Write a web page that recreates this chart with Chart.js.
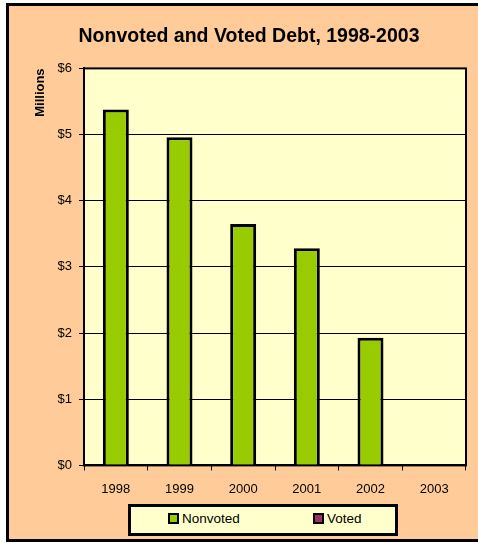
<!DOCTYPE html>
<html>
<head>
<meta charset="utf-8">
<script src="https://cdn.jsdelivr.net/npm/chart.js@4.4.0/dist/chart.umd.min.js"></script>
<style>
  html, body { margin: 0; padding: 0; background: #fff; overflow: hidden; width: 478px; height: 543px; }
  #frame { position: absolute; left: 6px; top: 3px; width: 472px; height: 539px; box-sizing: border-box;
           border: 3px solid #000; border-right: none; background: #FFCC99; }
  #wrap { position: absolute; left: 0; top: 0; width: 478px; height: 543px; }
  #legend { position: absolute; left: 128px; top: 504px; width: 270px; height: 32px; box-sizing: border-box;
            border: 3px solid #000; background: #FFFFCC; display: flex; align-items: center;
            padding: 0 0 3px 37px; font: 13.5px 'Liberation Sans', Arial, sans-serif; color: #000; }
  .item { display: flex; align-items: center; flex: none; }
  .item:first-child { width: 145px; }
  .swatch { width: 11px; height: 11px; box-sizing: border-box; border: 2px solid #000; margin-right: 3px; }
</style>
</head>
<body>
<div id="frame"></div>
<div id="wrap"><canvas id="debtChart"></canvas></div>
<div id="legend"></div>
<script>
// values in $ millions
const years = ['1998', '1999', '2000', '2001', '2002', '2003'];
const nonvoted = [5.38, 4.96, 3.65, 3.28, 1.93, 0];
const voted = [null, null, null, null, null, null];
const yTickLabels = ['$0', '$1', '$2', '$3', '$4', '$5', '$6'];

const sans = "'Liberation Sans', Arial, sans-serif";

// yellow plot area with a black frame round it
const plotFrame = {
  id: 'plotFrame',
  beforeDraw(chart) {
    const a = chart.chartArea;
    const c = chart.ctx;
    c.save();
    c.fillStyle = '#FFFFCC';
    c.fillRect(a.left, a.top, a.right - a.left, a.bottom - a.top);
    c.restore();
  },
  afterDatasetsDraw(chart) {
    const a = chart.chartArea;
    const c = chart.ctx;
    c.save();
    c.strokeStyle = '#000';
    c.lineWidth = 2;
    c.strokeRect(a.left, a.top, a.right - a.left, a.bottom - a.top);
    c.restore();
  }
};

// boxed legend under the chart, built from the datasets
const htmlLegend = {
  id: 'htmlLegend',
  afterUpdate(chart) {
    const box = document.getElementById('legend');
    box.innerHTML = '';
    chart.data.datasets.forEach(ds => {
      const item = document.createElement('div');
      item.className = 'item';
      const sw = document.createElement('span');
      sw.className = 'swatch';
      sw.style.background = ds.backgroundColor;
      const txt = document.createElement('span');
      txt.textContent = ds.label;
      item.appendChild(sw);
      item.appendChild(txt);
      box.appendChild(item);
    });
  }
};

new Chart(document.getElementById('debtChart'), {
  type: 'bar',
  data: {
    labels: years,
    datasets: [
      {
        label: 'Nonvoted',
        data: nonvoted,
        backgroundColor: '#99CC00',
        borderColor: '#000',
        borderWidth: 3,
        skipNull: true
      },
      {
        label: 'Voted',
        data: voted,
        backgroundColor: '#993366',
        borderColor: '#000',
        borderWidth: 3,
        skipNull: true
      }
    ]
  },
  options: {
    responsive: true,
    maintainAspectRatio: false,
    animation: false,
    layout: {
      padding: { left: 32, right: 12, top: 0, bottom: 35 }
    },
    datasets: {
      bar: { categoryPercentage: 0.8, barPercentage: 0.51 }
    },
    plugins: {
      legend: { display: false },
      tooltip: { enabled: false },
      title: {
        display: true,
        text: 'Nonvoted and Voted Debt, 1998-2003',
        color: '#000',
        font: { family: sans, size: 19.5, weight: 'bold' },
        padding: { top: 25, bottom: 20 }
      }
    },
    scales: {
      x: {
        grid: { drawOnChartArea: false, color: '#000', tickLength: 5 },
        border: { color: '#000', width: 2 },
        ticks: { color: '#000', padding: 11, font: { family: sans, size: 13 } }
      },
      y: {
        min: 0,
        max: 6,
        grid: { color: '#000', tickLength: 5 },
        border: { color: '#000', width: 2 },
        ticks: {
          stepSize: 1,
          padding: 7,
          color: '#000',
          font: { family: sans, size: 13 },
          callback: (v, i) => yTickLabels[i]
        },
        title: {
          display: true,
          text: 'Millions',
          align: 'end',
          color: '#000',
          font: { family: sans, size: 13, weight: 'bold' },
          padding: { top: 1, bottom: 8 }
        },
        afterFit(scale) {
          scale.width = 52;
        }
      }
    }
  },
  plugins: [plotFrame, htmlLegend]
});
</script>
</body>
</html>
